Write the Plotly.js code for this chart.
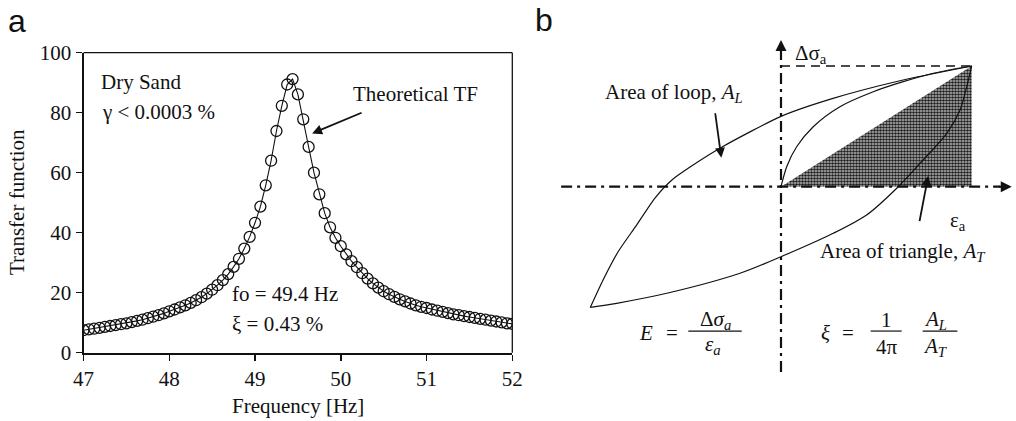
<!DOCTYPE html>
<html><head><meta charset="utf-8">
<script src="https://cdn.plot.ly/plotly-3.0.1.min.js"></script>
<style>html,body{margin:0;padding:0;background:#fff}#chart{width:1016px;height:421px}</style>
</head><body><div id="chart"></div>
<script>
// ---------- Panel a data ----------
const freqHz = [47, 47.0625, 47.125, 47.1875, 47.25, 47.3125, 47.375, 47.4375, 47.5, 47.5625, 47.625, 47.6875, 47.75, 47.8125, 47.875, 47.9375,
  48, 48.0625, 48.125, 48.1875, 48.25, 48.3125, 48.375, 48.4375, 48.5, 48.5625, 48.625, 48.6875, 48.75, 48.8125, 48.875, 48.9375,
  49, 49.0625, 49.125, 49.1875, 49.25, 49.3125, 49.375, 49.4375, 49.5, 49.5625, 49.625, 49.6875, 49.75, 49.8125, 49.875, 49.9375,
  50, 50.0625, 50.125, 50.1875, 50.25, 50.3125, 50.375, 50.4375, 50.5, 50.5625, 50.625, 50.6875, 50.75, 50.8125, 50.875, 50.9375,
  51, 51.0625, 51.125, 51.1875, 51.25, 51.3125, 51.375, 51.4375, 51.5, 51.5625, 51.625, 51.6875, 51.75, 51.8125, 51.875, 51.9375, 52];
const transferFunction = [7.5, 7.8, 8.0, 8.3, 8.6, 8.9, 9.2, 9.5, 9.8, 10.2, 10.6, 11.0, 11.5, 12.0, 12.5, 13.1,
  13.8, 14.4, 15.1, 15.8, 16.6, 17.5, 18.5, 19.7, 21.0, 22.5, 24.2, 26.2, 28.6, 31.3, 34.7, 38.6,
  43.3, 48.7, 55.8, 64.0, 73.9, 82.3, 89.4, 91.2, 86.1, 77.8, 68.6, 60.0, 52.8, 46.5, 41.8, 38.3,
  35.5, 32.8, 30.5, 28.5, 26.5, 24.7, 23.1, 21.7, 20.5, 19.5, 18.6, 17.8, 17.1, 16.4, 15.8, 15.3,
  14.9, 14.4, 14.0, 13.6, 13.2, 12.8, 12.5, 12.2, 11.9, 11.6, 11.3, 11.0, 10.7, 10.4, 10.1, 9.8, 9.6];
const xTicksA = [47, 48, 49, 50, 51, 52];
const yTicksA = [0, 20, 40, 60, 80, 100];

// ---------- Panel b data (normalised strain / stress) ----------
const loopUpperX = [1.0, 0.624, 0.273, 0.0, -0.309, -0.477, -0.572, -0.661, -0.761, -0.855, -0.933, -1.0];
const loopUpperY = [1.0, 0.878, 0.732, 0.583, 0.329, 0.163, 0.056, -0.094, -0.326, -0.541, -0.773, -1.0];
const loopLowerX = [-1.0, -0.862, -0.599, -0.215, 0.0, 0.274, 0.449, 0.615, 0.729, 0.869, 0.939, 0.974, 1.0];
const loopLowerY = [-1.0, -0.966, -0.883, -0.717, -0.580, -0.386, -0.234, 0.0, 0.193, 0.442, 0.636, 0.829, 1.0];
const virginX = [0.0, 0.030, 0.082, 0.169, 0.309, 0.484, 0.641, 0.799, 1.0];
const virginY = [0.0, 0.166, 0.331, 0.497, 0.663, 0.787, 0.870, 0.940, 1.0];
const triangleX = [0, 1, 1, 0];
const triangleY = [0, 0, 1, 0];
const peakX = [0, 1];
const peakY = [1, 1];
const strainAxisX = [-1.153, 1.15];
const strainAxisY = [0, 0];
const stressAxisX = [0, 0];
const stressAxisY = [-1.535, 1.13];

const serif = 'Liberation Serif';
const sans = 'Liberation Sans';
const black = '#111';

const traces = [
  {x: freqHz, y: transferFunction, mode: 'lines+markers', xaxis: 'x', yaxis: 'y',
   line: {color: black, width: 1.1},
   marker: {symbol: 'circle-open', size: 11, color: black, line: {width: 1.3, color: black}}},
  {x: triangleX, y: triangleY, mode: 'lines', fill: 'toself', fillcolor: 'rgb(190,190,190)',
   fillpattern: {shape: '.', fgcolor: '#1e1e1e', bgcolor: 'rgb(190,190,190)', size: 3, solidity: 0.6},
   line: {width: 0, color: 'rgba(0,0,0,0)'}, xaxis: 'x2', yaxis: 'y2'},
  {x: peakX, y: peakY, mode: 'lines', line: {color: black, width: 1.5, dash: '9px,6px'}, xaxis: 'x2', yaxis: 'y2'},
  {x: strainAxisX, y: strainAxisY, mode: 'lines', line: {color: black, width: 2.2, dash: '11px,5px,3px,5px'}, xaxis: 'x2', yaxis: 'y2'},
  {x: stressAxisX, y: stressAxisY, mode: 'lines', line: {color: black, width: 2.2, dash: '11px,5px,3px,5px'}, xaxis: 'x2', yaxis: 'y2'},
  {x: loopUpperX, y: loopUpperY, mode: 'lines', line: {color: black, width: 1.2, shape: 'spline', smoothing: 0.6}, xaxis: 'x2', yaxis: 'y2'},
  {x: loopLowerX, y: loopLowerY, mode: 'lines', line: {color: black, width: 1.2, shape: 'spline', smoothing: 0.8}, xaxis: 'x2', yaxis: 'y2'},
  {x: virginX, y: virginY, mode: 'lines', line: {color: black, width: 1.2, shape: 'spline', smoothing: 0.8}, xaxis: 'x2', yaxis: 'y2'}
];

const W = 1016, H = 421;
const px = v => v / W;
const py = v => 1 - v / H;

function tb(text, x, y, opts) {
  return Object.assign({text: text, x: x, y: y, xref: 'x2', yref: 'y2', showarrow: false,
    xanchor: 'center', yanchor: 'middle',
    font: {family: serif, size: 21, color: black}}, opts || {});
}
function ta(text, x, y, opts) {
  return Object.assign({text: text, x: x, y: y, xref: 'x', yref: 'y', showarrow: false,
    xanchor: 'center', yanchor: 'middle',
    font: {family: serif, size: 21, color: black}}, opts || {});
}

const annotations = [
  {text: 'a', x: px(6), y: py(21), xref: 'paper', yref: 'paper', xanchor: 'left', yanchor: 'middle', showarrow: false,
   font: {family: sans, size: 32, color: black}},
  {text: 'b', x: px(533), y: py(20), xref: 'paper', yref: 'paper', xanchor: 'left', yanchor: 'middle', showarrow: false,
   font: {family: sans, size: 32, color: black}},
  {text: 'Transfer function', x: px(17), y: py(202), xref: 'paper', yref: 'paper', textangle: -90, showarrow: false,
   xanchor: 'center', yanchor: 'middle', font: {family: serif, size: 21, color: black}},
  {text: 'Frequency [Hz]', x: px(298), y: py(406), xref: 'paper', yref: 'paper', showarrow: false,
   xanchor: 'center', yanchor: 'middle', font: {family: serif, size: 21, color: black}},
  ta('Dry Sand', 47.18, 90.2, {xanchor: 'left'}),
  ta('γ &lt; 0.0003 %', 47.19, 80.4, {xanchor: 'left'}),
  ta('Theoretical TF', 50.874, 86.1),
  ta('fo = 49.4 Hz', 48.71, 19.7, {xanchor: 'left'}),
  ta('ξ = 0.43 %', 48.71, 9.6, {xanchor: 'left'}),
  {text: '', x: 49.666, y: 73.1, ax: 50.26, ay: 80.2, xref: 'x', yref: 'y', axref: 'x', ayref: 'y',
   showarrow: true, arrowhead: 2, arrowsize: 1.1, arrowwidth: 1.8, arrowcolor: black, standoff: 0},
  // panel b
  tb('Area of loop, <i>A</i><sub><i>L</i></sub>', -0.561, 0.78),
  {text: '', x: -0.313, y: 0.24, ax: -0.346, ay: 0.621, xref: 'x2', yref: 'y2', axref: 'x2', ayref: 'y2',
   showarrow: true, arrowhead: 2, arrowsize: 1.1, arrowwidth: 1.8, arrowcolor: black, standoff: 0},
  tb('Area of triangle, <i>A</i><sub><i>T</i></sub>', 0.642, -0.539),
  {text: '', x: 0.772, y: 0.09, ax: 0.725, ay: -0.298, xref: 'x2', yref: 'y2', axref: 'x2', ayref: 'y2',
   showarrow: true, arrowhead: 2, arrowsize: 1.1, arrowwidth: 1.8, arrowcolor: black, standoff: 0},
  tb('ε<sub>a</sub>', 0.93, -0.285),
  tb('Δσ<sub>a</sub>', 0.061, 1.10, {xanchor: 'left'}),
  {text: '', x: 0, y: 1.215, ax: 0, ay: 14, xref: 'x2', yref: 'y2', showarrow: true, arrowhead: 2,
   arrowsize: 1.1, arrowwidth: 2, arrowcolor: black, standoff: 0},
  {text: '', x: 1.21, y: 0, ax: -14, ay: 0, xref: 'x2', yref: 'y2', showarrow: true, arrowhead: 2,
   arrowsize: 1.1, arrowwidth: 2, arrowcolor: black, standoff: 0},
  // formulas
  tb('<i>E</i>', -0.706, -1.212),
  tb('=', -0.573, -1.212),
  tb('Δ<i>σ<sub>a</sub></i>', -0.345, -1.105),
  tb('<i>ε<sub>a</sub></i>', -0.355, -1.31),
  tb('<i>ξ</i>', 0.231, -1.212),
  tb('=', 0.353, -1.212),
  tb('1', 0.551, -1.104),
  tb('4π', 0.554, -1.326),
  tb('<i>A<sub>L</sub></i>', 0.812, -1.104),
  tb('<i>A<sub>T</sub></i>', 0.812, -1.326)
];

const shapes = [
  {type: 'line', xref: 'x domain', yref: 'y domain', x0: 0, x1: 1, y0: 1, y1: 1, line: {color: black, width: 1.3}},
  {type: 'line', xref: 'x domain', yref: 'y domain', x0: 1, x1: 1, y0: 0, y1: 1, line: {color: black, width: 1.3}},
  {type: 'line', xref: 'x2', yref: 'y2', x0: -0.486, x1: -0.206, y0: -1.196, y1: -1.196, line: {color: black, width: 1.2}},
  {type: 'line', xref: 'x2', yref: 'y2', x0: 0.470, x1: 0.633, y0: -1.196, y1: -1.196, line: {color: black, width: 1.2}},
  {type: 'line', xref: 'x2', yref: 'y2', x0: 0.743, x1: 0.925, y0: -1.196, y1: -1.196, line: {color: black, width: 1.2}}
];

const axA = {showline: true, linewidth: 2, linecolor: black, ticks: 'outside', ticklen: 6, tickwidth: 1.5,
  tickcolor: black, showgrid: false, zeroline: false, tickfont: {family: serif, size: 21, color: black}, fixedrange: true};

const layout = {
  width: W, height: H, margin: {l: 0, r: 0, t: 0, b: 0}, showlegend: false,
  font: {family: serif, size: 21, color: black},
  paper_bgcolor: '#fff', plot_bgcolor: 'rgba(0,0,0,0)',
  xaxis: Object.assign({}, axA, {domain: [px(83.5), px(512.3)], range: [47, 52], tickvals: xTicksA, anchor: 'y'}),
  yaxis: Object.assign({}, axA, {domain: [py(352.7), py(52.7)], range: [0, 100], tickvals: yTicksA, anchor: 'x'}),
  xaxis2: {domain: [px(540), 1], range: [(540 - 781) / 190.7, (1016 - 781) / 190.7], visible: false, anchor: 'y2', fixedrange: true},
  yaxis2: {domain: [0, 1], range: [(186.7 - 421) / 120.7, 186.7 / 120.7], visible: false, anchor: 'x2', fixedrange: true},
  annotations: annotations, shapes: shapes
};

Plotly.newPlot('chart', traces, layout, {staticPlot: true, displayModeBar: false});
</script></body></html>
